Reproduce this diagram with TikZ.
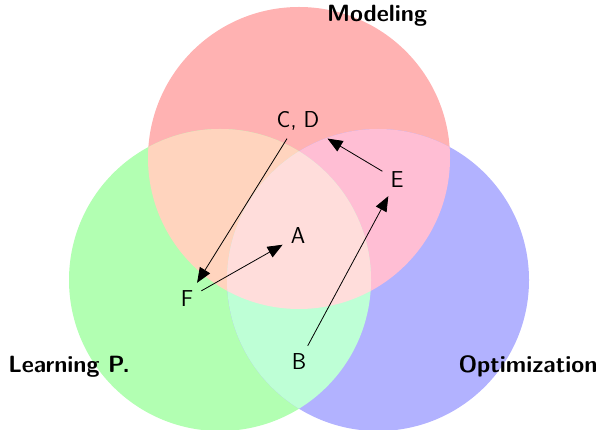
\documentclass[tikz,border=0pt]{standalone}
\usepackage{xcolor}
\usepackage{tikz}
\usetikzlibrary{arrows.meta,positioning,calc}

\definecolor{modred}{RGB}{255,178,178}
\definecolor{learngreen}{RGB}{178,255,178}
\definecolor{optblue}{RGB}{178,178,255}
\definecolor{rgmix}{RGB}{255,212,190}
\definecolor{rbmix}{RGB}{255,190,212}
\definecolor{gbmix}{RGB}{190,255,214}
\definecolor{rgbmix}{RGB}{255,221,219}

\begin{document}
\begin{tikzpicture}[
  x=1pt, y=1pt,
  >={Triangle[length=15pt,width=12pt]},
  font=\sffamily\fontsize{23}{27}\selectfont,
  setlab/.style={
    font=\sffamily\bfseries\fontsize{23.5}{28}\selectfont,
    anchor=base
  },
  pt/.style={
    inner sep=8pt
  },
  edge/.style={
    draw=black,
    line width=0.8pt,
    ->
  }
]
\clip (0,0) rectangle (601,430);

% Sets
\fill[modred]     (299,272) circle (151);
\fill[learngreen] (220,150) circle (151);
\fill[optblue]    (378,150) circle (151);

% Pairwise overlaps
\begin{scope}
  \clip (299,272) circle (151);
  \fill[rgmix] (220,150) circle (151);
  \fill[rbmix] (378,150) circle (151);
\end{scope}
\begin{scope}
  \clip (220,150) circle (151);
  \fill[gbmix] (378,150) circle (151);
\end{scope}
% Triple overlap
\begin{scope}
  \clip (299,272) circle (151);
  \clip (220,150) circle (151);
  \fill[rgbmix] (378,150) circle (151);
\end{scope}

% Set labels
\node[setlab] (mod) at (377,408) {Modeling};
\node[setlab] (lrn) at (69,57)   {Learning P.};
\node[setlab] (opt) at (528,57)  {Optimization};

% Points
\node[pt] (cd) at (298,309) {C, D};
\node[pt] (e)  at (397,250) {E};
\node[pt] (a)  at (298,194) {A};
\node[pt] (f)  at (187,131) {F};
\node[pt] (b)  at (299,68)  {B};

% Moves
\draw[edge] (cd) -- (f);
\draw[edge] (f) -- (a);
\draw[edge] (e) -- (cd);
\draw[edge] (b) -- (e);

\end{tikzpicture}
\end{document}
